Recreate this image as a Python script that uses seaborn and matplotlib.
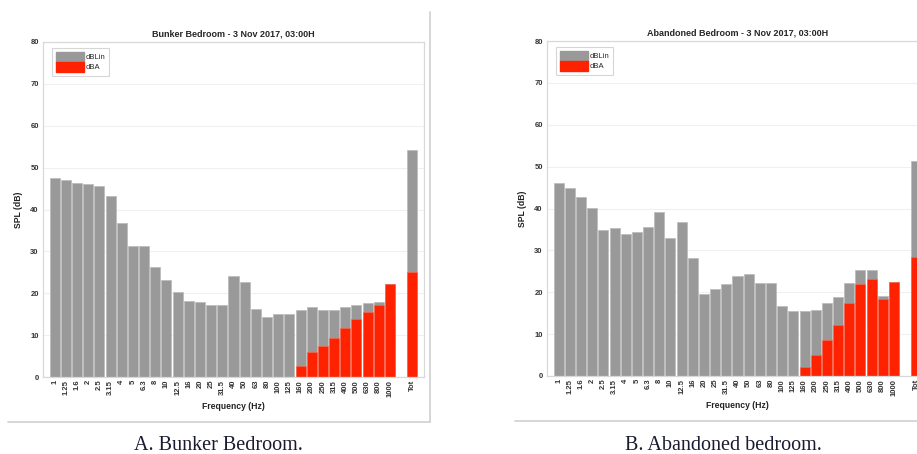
import numpy as np
import pandas as pd
import matplotlib
matplotlib.use("Agg")
import matplotlib.pyplot as plt
import seaborn as sns
from matplotlib.patches import Patch
from matplotlib.lines import Line2D

# third-octave bands, then an empty slot, then the total
bands = ["1", "1.25", "1.6", "2", "2.5", "3.15", "4", "5", "6.3", "8", "10",
         "12.5", "16", "20", "25", "31.5", "40", "50", "63", "80", "100",
         "125", "160", "200", "250", "315", "400", "500", "630", "800",
         "1000", " ", "Tot"]

bunker_lin = [47.5, 47.0, 46.3, 46.2, 45.7, 43.3, 36.8, 31.2, 31.2, 26.2, 23.2,
              20.3, 18.1, 17.9, 17.2, 17.2, 24.1, 22.7, 16.2, 14.4, 15.0,
              15.1, 16.0, 16.8, 15.9, 16.0, 16.7, 17.2, 17.6, 18.0,
              22.3, np.nan, 54.3]
bunker_a = [np.nan] * 22 + [2.6, 5.9, 7.3, 9.4, 11.7, 13.9, 15.6, 17.1,
                            22.3, np.nan, 25.0]

abandoned_lin = [46.1, 45.0, 42.8, 40.1, 34.8, 35.3, 33.9, 34.4, 35.5, 39.2,
                 33.0, 36.8, 28.2, 19.7, 20.8, 21.9, 23.9, 24.3, 22.1, 22.3,
                 16.6, 15.5, 15.5, 15.8, 17.4, 18.9, 22.2, 25.2, 25.3, 19.2,
                 22.4, np.nan, 51.3]
abandoned_a = [np.nan] * 22 + [2.2, 4.9, 8.7, 12.2, 17.4, 21.9, 23.2, 18.4,
                               22.4, np.nan, 28.3]

GRAY = "#999999"
RED = "#ff2200"

sns.set_style("white")
plt.rcParams["font.family"] = ["Liberation Sans", "DejaVu Sans"]

fig = plt.figure(figsize=(9.17, 4.54), dpi=100)
W, H = 917.0, 454.0


def panel(left_px, bottom_px, title, lin, dba):
    ax = fig.add_axes([left_px / W, 1 - bottom_px / H, 381 / W, 335 / H])
    df = pd.DataFrame({"band": bands, "lin": lin, "dba": dba})
    sns.barplot(data=df, x="band", y="lin", order=bands, color=GRAY,
                width=0.9, edgecolor="#bdbdbd", linewidth=0.6,
                saturation=1, errorbar=None, ax=ax)
    sns.barplot(data=df, x="band", y="dba", order=bands, color=RED,
                width=0.9, edgecolor="#ff6a50", linewidth=0.4,
                saturation=1, errorbar=None, ax=ax)
    ax.set_xlim(-1.05, len(bands) - 1 + 1.05)
    ax.set_ylim(0, 80)
    ax.set_yticks(range(0, 81, 10))
    ax.yaxis.grid(True, color="#f0f0f0", linewidth=0.8)
    ax.set_axisbelow(True)
    for s in ax.spines.values():
        s.set_color("#d8d8d8")
        s.set_linewidth(0.9)
    ax.tick_params(axis="y", labelsize=5.5, pad=3, length=0)
    ax.tick_params(axis="x", labelsize=5.5, rotation=90, pad=2, length=0)
    for t in ax.get_xticklabels() + ax.get_yticklabels():
        t.set_fontweight("bold")
        t.set_color("#333333")
    ax.set_title(title, fontsize=6.5, fontweight="bold", pad=4)
    ax.set_xlabel("Frequency (Hz)", fontsize=6.2, fontweight="bold",
                  labelpad=4, color="#222222")
    ax.set_ylabel("SPL (dB)", fontsize=6.2, fontweight="bold",
                  labelpad=5, color="#222222")
    handles = [Patch(facecolor=GRAY, edgecolor=GRAY, label="dBLin"),
               Patch(facecolor=RED, edgecolor=RED, label="dBA")]
    leg = ax.legend(handles=handles, loc="upper left", fontsize=5.5,
                    frameon=True, fancybox=False, handlelength=3.6,
                    handleheight=1.5, handletextpad=0.2, borderpad=0.55,
                    labelspacing=0.1, borderaxespad=0,
                    bbox_to_anchor=(0.024, 0.982))
    leg.get_frame().set_edgecolor("#cccccc")
    leg.get_frame().set_linewidth(0.8)
    return ax


panel(43, 377, "Bunker Bedroom - 3 Nov 2017, 03:00H", bunker_lin, bunker_a)
panel(547, 376, "Abandoned Bedroom - 3 Nov 2017, 03:00H",
      abandoned_lin, abandoned_a)

# panel frames
fig.add_artist(Line2D([430 / W, 430 / W], [1 - 12 / H, 1 - 422 / H],
                      color="#d0d0d0", linewidth=1.2))
fig.add_artist(Line2D([8 / W, 430 / W], [1 - 422 / H, 1 - 422 / H],
                      color="#d0d0d0", linewidth=1.2))
fig.add_artist(Line2D([515 / W, 1.0], [1 - 421 / H, 1 - 421 / H],
                      color="#d0d0d0", linewidth=1.2))

# captions
fig.text(218 / W, 1 - 446 / H, "A. Bunker Bedroom.", ha="center",
         va="center", fontsize=14.5,
         family=["Liberation Serif", "DejaVu Serif"], color="#1a1a30")
fig.text(723 / W, 1 - 446 / H, "B. Abandoned bedroom.", ha="center",
         va="center", fontsize=14.5,
         family=["Liberation Serif", "DejaVu Serif"], color="#1a1a30")

fig.savefig("out.png", dpi=100)
